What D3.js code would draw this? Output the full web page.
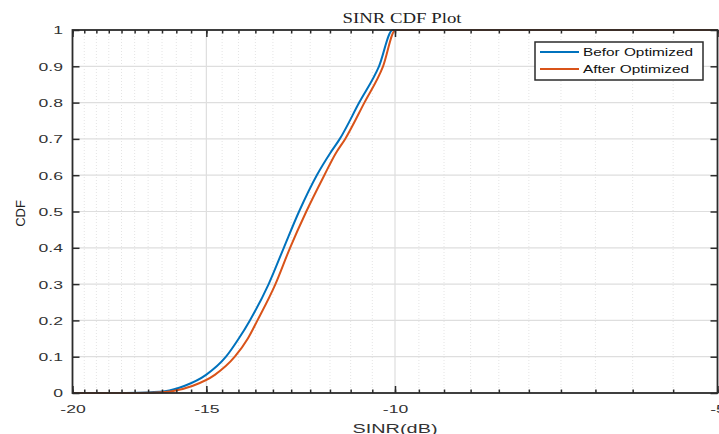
<!DOCTYPE html>
<html><head><meta charset="utf-8">
<script src="https://cdn.jsdelivr.net/npm/d3@7"></script>
<style>body{margin:0;background:#fff} svg{display:block}</style>
</head><body><svg id="c" width="719" height="434"></svg>
<script>
// ---- data (SINR in dB, CDF) ----
const xMajorTicks = [-20, -15, -10, -5];
const xTickLabels = ["-20", "-15", "-10", "-5"];
const yTicks = [0, 0.1, 0.2, 0.3, 0.4, 0.5, 0.6, 0.7, 0.8, 0.9, 1];
const yTickLabels = ["0", "0.1", "0.2", "0.3", "0.4", "0.5", "0.6", "0.7", "0.8", "0.9", "1"];
const sinrBefore = [-20, -18.4, -17.32, -16.40, -15.71, -15.01, -14.38, -13.99, -13.66, -13.12, -12.70, -12.29, -11.83, -11.5, -11.26, -10.80, -10.35, -10.05, -5];
const cdfBefore  = [0, 0, 0.001, 0.005, 0.02, 0.05, 0.1, 0.15, 0.2, 0.3, 0.4, 0.5, 0.6, 0.66, 0.7, 0.8, 0.9, 1, 1];
const sinrAfter  = [-20, -18.0, -16.93, -16.15, -15.44, -14.73, -14.11, -13.72, -13.44, -12.93, -12.53, -12.10, -11.64, -11.36, -11.13, -10.68, -10.26, -9.99, -5];
const cdfAfter   = [0, 0, 0.001, 0.005, 0.02, 0.05, 0.1, 0.15, 0.2, 0.3, 0.4, 0.5, 0.6, 0.66, 0.7, 0.8, 0.9, 1, 1];
const seriesNames = ["Befor Optimized", "After Optimized"];
const seriesColors = ["#0072BD", "#D95319"];
const titleText = "SINR CDF Plot";
const xLabelText = "SINR(dB)";
const yLabelText = "CDF";

// ---- layout ----
const L = 72.5, R = 717.5, T = 30, B = 393;
const svg = d3.select("#c");
const x = d3.scaleLog().domain([20, 5]).range([L, R]);   // applied to -dB
const y = d3.scaleLinear().domain([0, 1]).range([B, T]);
const minorX = d3.range(0, 31).map(i => 20 - i * 0.5);
const fmtX = d => xTickLabels[xMajorTicks.indexOf(-d)] || "";
const majX = xMajorTicks.map(d => -d);

// grid
const grid = svg.append("g");
grid.selectAll(".mn").data(minorX.filter(v => !majX.includes(v))).join("line")
  .attr("x1", d => x(d)).attr("x2", d => x(d)).attr("y1", T).attr("y2", B)
  .attr("stroke", "#e4e4e4").attr("stroke-width", 1).attr("stroke-dasharray", "1,2");
grid.selectAll(".mx").data(majX.slice(1, -1)).join("line")
  .attr("x1", d => x(d)).attr("x2", d => x(d)).attr("y1", T).attr("y2", B)
  .attr("stroke", "#dedede").attr("stroke-width", 1.2);
grid.selectAll(".my").data(yTicks.slice(1, -1)).join("line")
  .attr("x1", L).attr("x2", R).attr("y1", d => y(d)).attr("y2", d => y(d))
  .attr("stroke", "#dedede").attr("stroke-width", 1.2);

// curves
const line = d3.line().x(d => x(-d[0])).y(d => y(d[1])).curve(d3.curveMonotoneX);
const series = [d3.zip(sinrBefore, cdfBefore), d3.zip(sinrAfter, cdfAfter)];
svg.append("g").selectAll("path").data(series).join("path")
  .attr("d", line).attr("fill", "none")
  .attr("stroke", (d, i) => seriesColors[i]).attr("stroke-width", 2);

// axes (ticks inward)
const axColor = "#2b2b2b";
function styleAxis(g) {
  g.select(".domain").remove();
  g.selectAll(".tick line").attr("stroke", axColor).attr("stroke-width", 1.5);
}
svg.append("g").attr("transform", `translate(0,${B})`)
  .call(d3.axisBottom(x).tickValues(minorX).tickSize(-3.5).tickFormat("")).call(styleAxis);
svg.append("g").attr("transform", `translate(0,${T})`)
  .call(d3.axisTop(x).tickValues(minorX).tickSize(-3.5).tickFormat("")).call(styleAxis);
svg.append("g").attr("transform", `translate(0,${T})`)
  .call(d3.axisTop(x).tickValues(majX).tickSize(-7).tickFormat("")).call(styleAxis);
const xb = svg.append("g").attr("transform", `translate(0,${B})`)
  .call(d3.axisBottom(x).tickValues(majX).tickSize(-7).tickPadding(10).tickFormat(fmtX)).call(styleAxis);
xb.selectAll("text").attr("y", 0).attr("dy", null).attr("transform", "translate(0,20) scale(1.6,1)")
  .attr("font-family", "Liberation Sans, Arial, sans-serif").attr("font-size", 11).attr("fill", "#333");
const yl = svg.append("g").attr("transform", `translate(${L},0)`)
  .call(d3.axisLeft(y).tickValues(yTicks).tickSize(-7).tickFormat((d, i) => yTickLabels[i])).call(styleAxis);
yl.selectAll("text").attr("x", 0).attr("dy", "0.36em").attr("transform", "translate(-9.5,0) scale(1.6,1)")
  .attr("font-family", "Liberation Sans, Arial, sans-serif").attr("font-size", 11).attr("fill", "#333");
svg.append("g").attr("transform", `translate(${R},0)`)
  .call(d3.axisRight(y).tickValues(yTicks).tickSize(-7).tickFormat("")).call(styleAxis);

// frame
svg.append("rect").attr("x", L).attr("y", T).attr("width", R - L).attr("height", B - T)
  .attr("fill", "none").attr("stroke", axColor).attr("stroke-width", 1.8);

// title & labels
svg.append("text").attr("x", 402).attr("y", 22.5).attr("text-anchor", "middle")
  .attr("font-family", "Liberation Serif, Times New Roman, serif").attr("font-size", 14)
  .attr("fill", "#222").attr("textLength", 119).attr("lengthAdjust", "spacingAndGlyphs").text(titleText);
svg.append("text").attr("x", 395).attr("y", 432.5).attr("text-anchor", "middle")
  .attr("font-family", "Liberation Sans, Arial, sans-serif").attr("font-size", 12.5)
  .attr("fill", "#333").attr("textLength", 85).attr("lengthAdjust", "spacingAndGlyphs").text(xLabelText);
svg.append("text").attr("transform", "translate(25,213.5) rotate(-90)").attr("text-anchor", "middle")
  .attr("font-family", "Liberation Sans, Arial, sans-serif").attr("font-size", 13)
  .attr("fill", "#222").text(yLabelText);

// legend
const lg = svg.append("g");
lg.append("rect").attr("x", 535).attr("y", 42).attr("width", 168).attr("height", 38)
  .attr("fill", "#fff").attr("stroke", axColor).attr("stroke-width", 1.5);
const lgRows = [52, 69];
seriesNames.forEach((name, i) => {
  lg.append("line").attr("x1", 540).attr("x2", 579).attr("y1", lgRows[i]).attr("y2", lgRows[i])
    .attr("stroke", seriesColors[i]).attr("stroke-width", 2);
  lg.append("text").attr("x", 583).attr("y", lgRows[i] + 4).attr("font-family", "Liberation Sans, Arial, sans-serif")
    .attr("font-size", 11.5).attr("fill", "#111")
    .attr("textLength", i === 0 ? 110 : 106).attr("lengthAdjust", "spacingAndGlyphs").text(name);
});
</script></body></html>
